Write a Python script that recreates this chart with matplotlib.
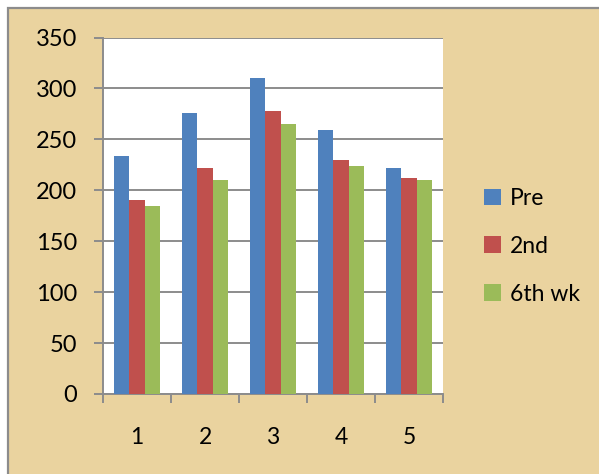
import matplotlib
matplotlib.use("Agg")
import matplotlib.pyplot as plt
from matplotlib.patches import Rectangle, Patch
import numpy as np

plt.rcParams["font.family"] = ["Lato", "DejaVu Sans"]

categories = ["1", "2", "3", "4", "5"]
series_names = ["Pre", "2nd", "6th wk"]
pre = [234, 276, 310, 259, 222]
second = [190, 222, 278, 230, 212]
sixth_wk = [185, 210, 265, 224, 210]
colors = ["#4F81BD", "#C0504D", "#9BBB59"]
y_ticks = [0, 50, 100, 150, 200, 250, 300, 350]

W, H = 599, 474
fig = plt.figure(figsize=(W / 100, H / 100), dpi=100, facecolor="white")

# parchment-coloured chart area with a grey frame on the left and top
fig.patches.append(Rectangle((8 / W, -0.1), 1.2, 1.1 - 8 / H,
                             transform=fig.transFigure, facecolor="#EAD39F",
                             edgecolor="#8C8C8C", linewidth=1.6, zorder=-10))

ax = fig.add_axes([103 / W, 80 / H, 340 / W, 356.5 / H])
ax.set_facecolor("white")

x = np.arange(len(categories))
bw = 1 / 4.5
for i, (vals, c) in enumerate(zip([pre, second, sixth_wk], colors)):
    ax.bar(x + (i - 1) * bw, vals, width=bw, color=c, zorder=3, linewidth=0)

ax.set_xlim(-0.5, len(categories) - 0.5)
ax.set_ylim(0, 350)
ax.set_yticks(y_ticks)
ax.yaxis.grid(True, color="#8C8C8C", linewidth=1.4, zorder=1)
ax.set_axisbelow(True)

for s in ["top", "right"]:
    ax.spines[s].set_visible(False)
for s in ["left", "bottom"]:
    ax.spines[s].set_color("#8C8C8C")
    ax.spines[s].set_linewidth(1.4)

# category boundaries carry the tick marks, centres carry the labels
ax.set_xticks(np.arange(-0.5, len(categories), 1.0))
ax.set_xticklabels([])
ax.set_xticks(x, minor=True)
ax.set_xticklabels(categories, minor=True)
ax.tick_params(axis="x", which="major", direction="out", length=6.5, width=1.4, color="#8C8C8C")
ax.tick_params(axis="x", which="minor", length=0, pad=24, labelsize=16.5)
ax.tick_params(axis="y", direction="out", length=6.5, width=1.4, color="#8C8C8C",
               pad=12, labelsize=17)

handles = [Patch(facecolor=c, edgecolor="none") for c in colors]
fig.legend(handles, series_names, loc="upper left",
           bbox_to_anchor=(484 / W, 1 - 188 / H), frameon=False, fontsize=16.5,
           handlelength=0.75, handleheight=0.75, handletextpad=0.4,
           labelspacing=1.17, borderpad=0, borderaxespad=0)

fig.savefig("out.png", dpi=100, facecolor=fig.get_facecolor())
